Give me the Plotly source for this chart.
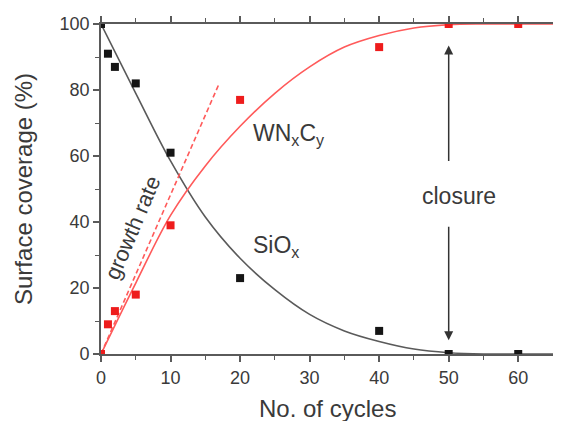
import plotly.graph_objects as go

# Measured data points
sio_x = [0, 1, 2, 5, 10, 20, 40, 50, 60]
sio_y = [100, 91, 87, 82, 61, 23, 7, 0, 0]
wnc_x = [0, 1, 2, 5, 10, 20, 40, 50, 60]
wnc_y = [0, 9, 13, 18, 39, 77, 93, 100, 100]

# Fitted curves
fit_x = [0, 5, 10, 15, 20, 25, 30, 35, 40, 45, 50, 55, 60, 65]
sio_fit = [100, 79, 58.5, 41.5, 29, 19.5, 12, 7, 3.8, 1.5, 0.4, 0, 0, 0]
wnc_fit = [0, 21.5, 42, 57, 69, 79, 87, 93, 96.5, 98.8, 99.8, 100, 100, 100]

# Initial growth rate line
gr_x = [0, 17]
gr_y = [0, 82]

x_ticks = [0, 10, 20, 30, 40, 50, 60]
y_ticks = [0, 20, 40, 60, 80, 100]

FONT = "Liberation Sans, Arial, sans-serif"
TXT = "#3a3a3a"

fig = go.Figure()
fig.add_trace(go.Scatter(x=fit_x, y=sio_fit, mode="lines", line=dict(color="#5a5a5a", width=1.6, shape="spline"), showlegend=False))
fig.add_trace(go.Scatter(x=fit_x, y=wnc_fit, mode="lines", line=dict(color="#ff5a5a", width=1.6, shape="spline"), showlegend=False))
fig.add_trace(go.Scatter(x=gr_x, y=gr_y, mode="lines", line=dict(color="#ff5a5a", width=1.6, dash="5px,3px"), showlegend=False))
fig.add_trace(go.Scatter(x=sio_x, y=sio_y, mode="markers", marker=dict(symbol="square", size=8, color="#151515"), showlegend=False))
fig.add_trace(go.Scatter(x=wnc_x, y=wnc_y, mode="markers", marker=dict(symbol="square", size=8, color="#ee1c1c"), showlegend=False))

axis_common = dict(
    showline=True, linecolor="#5a5a5a", linewidth=1.8, mirror="allticks",
    ticks="outside", ticklen=6, tickwidth=1.5, tickcolor="#5a5a5a",
    showgrid=False, zeroline=False, automargin=False,
    tickfont=dict(family=FONT, size=18, color=TXT),
)

fig.update_xaxes(range=[0, 65], tickvals=x_ticks,
                 minor=dict(dtick=5, ticks="outside", ticklen=4, tickcolor="#5a5a5a", tickwidth=1.3),
                 **axis_common)
fig.update_yaxes(range=[0, 100], tickvals=y_ticks,
                 minor=dict(dtick=10, ticks="outside", ticklen=4, tickcolor="#5a5a5a", tickwidth=1.3),
                 **axis_common)

ann = []
ann.append(dict(text="No. of cycles", xref="paper", yref="paper", x=0.5, y=-0.165, xanchor="center", yanchor="middle",
                showarrow=False, font=dict(family=FONT, size=24, color=TXT)))
ann.append(dict(text="Surface coverage (%)", xref="paper", yref="paper", x=-0.1726, y=0.5, xanchor="center", yanchor="middle",
                textangle=-90, showarrow=False, font=dict(family=FONT, size=24, color=TXT)))
ann.append(dict(text="WN<sub>x</sub>C<sub>y</sub>", xref="x", yref="y", x=27.0, y=66.5, xanchor="center", yanchor="middle",
                showarrow=False, font=dict(family=FONT, size=23, color=TXT)))
ann.append(dict(text="SiO<sub>x</sub>", xref="x", yref="y", x=25.2, y=32.5, xanchor="center", yanchor="middle",
                showarrow=False, font=dict(family=FONT, size=23, color=TXT)))
ann.append(dict(text="closure", xref="x", yref="y", x=51.5, y=48.0, xanchor="center", yanchor="middle",
                showarrow=False, font=dict(family=FONT, size=23, color=TXT)))
ann.append(dict(text="growth rate", xref="x", yref="y", x=4.6, y=38.2, xanchor="center", yanchor="middle",
                textangle=-67, showarrow=False, font=dict(family=FONT, size=22, color=TXT)))
# closure arrows
ann.append(dict(x=50, y=93.5, ax=50, ay=58, xref="x", yref="y", axref="x", ayref="y", text="",
                showarrow=True, arrowhead=2, arrowsize=1.2, arrowwidth=1.5, arrowcolor="#333333"))
ann.append(dict(x=50, y=4.2, ax=50, ay=39, xref="x", yref="y", axref="x", ayref="y", text="",
                showarrow=True, arrowhead=2, arrowsize=1.2, arrowwidth=1.5, arrowcolor="#333333"))

# the page offsets the figure by 8 px (body margin), so margins compensate
fig.update_layout(
    width=561, height=421,
    margin=dict(l=93, r=16, t=16, b=75),
    plot_bgcolor="white", paper_bgcolor="white",
    annotations=ann, showlegend=False,
)

fig.write_html("out.html")
